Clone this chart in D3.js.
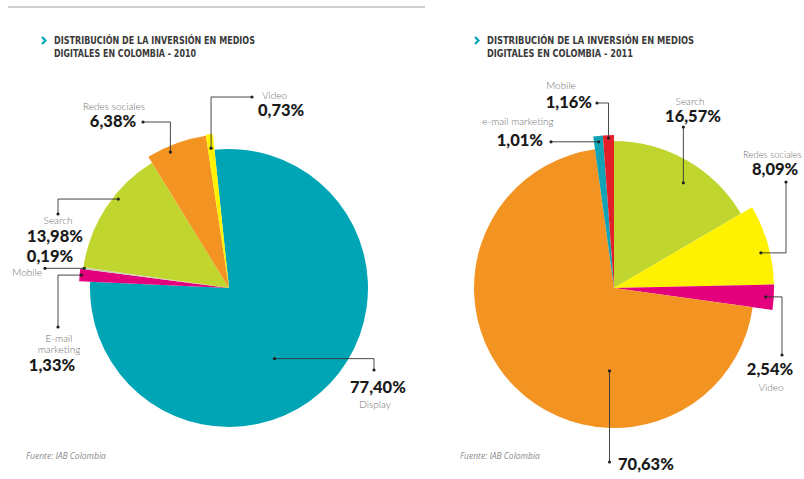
<!DOCTYPE html>
<html>
<head>
<meta charset="utf-8">
<script src="https://cdn.jsdelivr.net/npm/d3@7"></script>
<style>
  body { margin: 0; background: #fff; }
  svg { display: block; }
</style>
</head>
<body>
<div id="chart"></div>
<script>
// values (percent of digital ad spend)
const categories2010 = ['Display', 'E-mail marketing', 'Mobile', 'Search', 'Redes sociales', 'Video'];
const values2010 = [77.40, 1.33, 0.19, 13.98, 6.38, 0.73];
const categories2011 = ['Search', 'Redes sociales', 'Video', 'Display', 'e-mail marketing', 'Mobile'];
const values2011 = [16.57, 8.09, 2.54, 70.63, 1.01, 1.16];
const titleLines2010 = ['DISTRIBUCIÓN DE LA INVERSIÓN EN MEDIOS', 'DIGITALES EN COLOMBIA - 2010'];
const titleLines2011 = ['DISTRIBUCIÓN DE LA INVERSIÓN EN MEDIOS', 'DIGITALES EN COLOMBIA - 2011'];
const sourceText = 'Fuente: IAB Colombia';

// styles
const colors2010 = ['#00a5b5', '#e4007c', '#c9ccb4', '#c1d52f', '#f39322', '#fff200'];
const colors2011 = ['#c1d52f', '#fff200', '#e4007c', '#f39322', '#12a3b5', '#e3202a'];
const radii2010 = [139, 150, 148, 147, 154, 155];
const radii2011 = [147, 160, 160, 140, 153, 153];

const dims = { width: 804, height: 479 };

// callout layout: where on the slice the dot sits (t along the angle, r radius),
// how the leader line bends, where it ends and where the two texts go
const callouts2010 = [
  { t: 0.55, r: 84, route: 'hv', at: [374, 370], val: [350, 393, 'start'], name: [375, 408, 'middle'] },
  { t: 0.5, r: 148, route: 'hv', at: [58, 327], val: [52, 371, 'middle'], name: [59, 342, 'middle'], wrap: true },
  { t: 0.5, r: 146, route: 'h', at: [45, 0], val: [50, 262, 'middle'], name: [42, 276, 'end'] },
  { t: 0.61, r: 142, route: 'hv', at: [58, 214], val: [55, 242, 'middle'], name: [58, 224, 'middle'] },
  { t: 0.36, r: 148, route: 'vh', at: [143, 122], val: [113, 127, 'middle'], name: [114, 110, 'middle'] },
  { t: 0.5, r: 141, route: 'vh', at: [252, 97], val: [258, 116, 'start'], name: [262, 99, 'start'] }
];
const callouts2011 = [
  { t: 0.56, r: 126, route: 'v', at: [0, 127], val: [693, 122, 'middle'], name: [690, 105, 'middle'] },
  { t: 0.58, r: 151, route: 'hv', at: [786, 182], val: [752, 175, 'start'], name: [743, 158, 'start'], small: true },
  { t: 0.5, r: 152, route: 'hv', at: [782, 355], val: [770, 375, 'middle'], name: [771, 391, 'middle'] },
  { t: 0.335, r: 83, route: 'v', at: [0, 462], val: [618, 470, 'start'], name: null },
  { t: 0.5, r: 147, route: 'h', at: [551, 0], val: [543, 146, 'end'], name: [518, 125, 'middle'] },
  { t: 0.5, r: 150, route: 'vh', at: [597, 103], val: [592, 108, 'end'], name: [561, 89, 'middle'] }
];

const pct = d3.formatLocale({ decimal: ',', thousands: '.', grouping: [3], currency: ['', ''] }).format('.2f');

const svg = d3.select('#chart')
  .append('svg')
  .attr('width', dims.width)
  .attr('height', dims.height)
  .attr('viewBox', [0, 0, dims.width, dims.height]);

// thin rule across the top of the left panel
svg.append('line')
  .attr('x1', 8).attr('x2', 425)
  .attr('y1', 7).attr('y2', 7)
  .attr('stroke', '#cfcfcf')
  .attr('stroke-width', 2);

function drawTitle(x, y, lines, widths) {
  const g = svg.append('g').attr('transform', `translate(${x},${y})`);
  g.append('path')
    .attr('d', 'M-12,-7 L-8.5,-3.5 L-12,0')
    .attr('fill', 'none')
    .attr('stroke', '#00a5b5')
    .attr('stroke-width', 2.2);
  g.selectAll('text')
    .data(lines)
    .join('text')
    .attr('x', 0)
    .attr('y', (_, i) => i * 13)
    .attr('textLength', (_, i) => widths[i])
    .attr('lengthAdjust', 'spacingAndGlyphs')
    .attr('font-family', '"Liberation Sans Narrow", "DejaVu Sans Condensed", Roboto, sans-serif')
    .attr('font-size', 10)
    .attr('font-weight', 700)
    .attr('fill', '#3a3a3a')
    .text(d => d);
}

function drawPie(cx, cy, startDeg, categories, values, colors, radii, callouts) {
  const g = svg.append('g').attr('transform', `translate(${cx},${cy})`);
  const start = startDeg * Math.PI / 180;
  const pie = d3.pie()
    .sort(null)
    .value(d => d)
    .startAngle(start)
    .endAngle(start + 2 * Math.PI);
  const arcs = pie(values);
  const arc = d3.arc()
    .innerRadius(0)
    .outerRadius((d) => radii[d.index]);

  g.selectAll('path.slice')
    .data(arcs)
    .join('path')
    .attr('class', 'slice')
    .attr('fill', (d) => colors[d.index])
    .attr('d', arc);

  const point = (d, c) => {
    const a = d.startAngle + c.t * (d.endAngle - d.startAngle);
    return [c.r * Math.sin(a), -c.r * Math.cos(a)];
  };

  // leader lines, in page coords
  const lines = arcs.map((d, i) => {
    const c = callouts[i];
    const p = point(d, c);
    const dot = [cx + p[0], cy + p[1]];
    let pts;
    if (c.route == 'hv') pts = [dot, [c.at[0], dot[1]], c.at];
    else if (c.route == 'vh') pts = [dot, [dot[0], c.at[1]], c.at];
    else if (c.route == 'h') pts = [dot, [c.at[0], dot[1]]];
    else pts = [dot, [dot[0], c.at[1]]];
    return pts;
  });

  const ann = svg.append('g');
  ann.selectAll('polyline')
    .data(lines)
    .join('polyline')
    .attr('points', (pts) => pts.map(p => p.join(',')).join(' '))
    .attr('fill', 'none')
    .attr('stroke', '#333')
    .attr('stroke-width', 0.9);
  ann.selectAll('circle')
    .data(lines.flatMap(pts => [pts[0], pts[pts.length - 1]]))
    .join('circle')
    .attr('cx', p => p[0])
    .attr('cy', p => p[1])
    .attr('r', 1.6)
    .attr('fill', '#222');

  ann.selectAll('text.val')
    .data(callouts)
    .join('text')
    .attr('class', 'val')
    .attr('x', c => c.val[0])
    .attr('y', c => c.val[1])
    .attr('text-anchor', c => c.val[2])
    .attr('font-family', 'Lato, "Open Sans", sans-serif')
    .attr('font-weight', 900)
    .attr('font-size', 16.5)
    .attr('fill', '#1a1a1a')
    .text((c, i) => pct(values[i]) + '%');

  const names = ann.selectAll('text.name')
    .data(callouts.map((c, i) => ({ c, label: categories[i] })).filter(d => d.c.name))
    .join('text')
    .attr('class', 'name')
    .attr('x', d => d.c.name[0])
    .attr('y', d => d.c.name[1])
    .attr('text-anchor', d => d.c.name[2])
    .attr('font-family', 'Lato, "Open Sans", sans-serif')
    .attr('font-weight', 300)
    .attr('font-size', d => d.c.small ? 9.5 : 10)
    .attr('fill', '#6f6f6f');
  names.each(function (d) {
    const parts = d.c.wrap ? d.label.split(' ') : [d.label];
    d3.select(this).selectAll('tspan')
      .data(parts)
      .join('tspan')
      .attr('x', d.c.name[0])
      .attr('dy', (_, i) => i == 0 ? 0 : 11)
      .text(p => p);
  });
}

drawTitle(54, 44, titleLines2010, [201, 142]);
drawTitle(487, 44, titleLines2011, [207, 146]);

// the 2010 pie is turned a little so the thin slices sit on the horizontal, as in the print
drawPie(229, 288, -6, categories2010, values2010, colors2010, radii2010, callouts2010);
drawPie(614, 288, 0, categories2011, values2011, colors2011, radii2011, callouts2011);

svg.selectAll('text.source')
  .data([26, 460])
  .join('text')
  .attr('class', 'source')
  .attr('x', d => d)
  .attr('y', 459)
  .attr('font-family', '"Open Sans", sans-serif')
  .attr('font-style', 'italic')
  .attr('font-size', 8.5)
  .attr('fill', '#8a8a8a')
  .text(sourceText);
</script>
</body>
</html>
